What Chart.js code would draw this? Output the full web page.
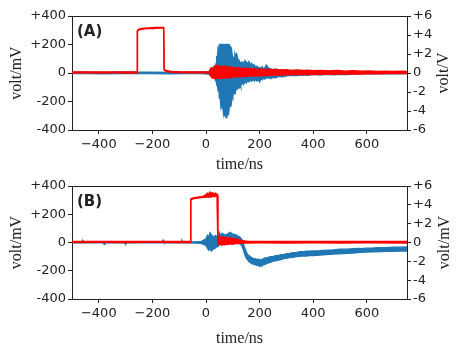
<!DOCTYPE html>
<html>
<head>
<meta charset="utf-8">
<script src="https://cdn.jsdelivr.net/npm/chart.js"></script>
<style>
  html, body { margin: 0; padding: 0; background: #fff; }
  #wrap { position: relative; width: 463px; height: 348px; }
  canvas { position: absolute; left: 0; }
</style>
</head>
<body>
<div id="wrap">
  <canvas id="chartA" width="463" height="174" style="top:0"></canvas>
  <canvas id="chartB" width="463" height="174" style="top:174px"></canvas>
</div>
<script>
// axis ticks
const xTicks = [-400, -200, 0, 200, 400, 600];
const xTickLabels = ['\u2212400', '\u2212200', '0', '200', '400', '600'];
const mvTicks = [-400, -200, 0, 200, 400];
const mvTickLabels = ['-400', '-200', '0', '+200', '+400'];
const vTicks = [-6, -4, -2, 0, 2, 4, 6];
const vTickLabels = ['-6', '-4', '-2', '0', '+2', '+4', '+6'];

// (A) red trace, volt/V — upper / lower edge of the noisy trace
const timeRedA = [-500, -450, -400, -350, -300, -257, -256, -250, -240, -230, -215, -200, -185, -170, -158, -156, -152, -145, -135, -120,
  -100, -60, -20, 12, 15, 20, 25, 30, 35, 40, 45, 50, 55, 60, 65, 70, 75, 80, 85, 90,
  95, 100, 110, 120, 130, 140, 150, 160, 170, 180, 190, 200, 215, 230, 245, 260, 280, 300, 320, 340,
  360, 380, 400, 430, 460, 490, 520, 550, 580, 610, 640, 670, 700, 730, 750];
const redAHigh = [0.10, 0.12, 0.10, 0.11, 0.10, 0.10, 4.50, 4.62, 4.68, 4.72, 4.75, 4.77, 4.79, 4.80, 4.80, 0.40, 0.30, 0.24, 0.18, 0.15,
  0.13, 0.12, 0.12, 0.12, 0.35, 0.55, 0.45, 0.70, 0.60, 0.80, 0.65, 0.78, 0.60, 0.72, 0.55, 0.75, 0.58, 0.70, 0.52, 0.66,
  0.50, 0.62, 0.48, 0.58, 0.45, 0.55, 0.42, 0.50, 0.40, 0.48, 0.38, 0.45, 0.36, 0.42, 0.33, 0.38, 0.30, 0.34, 0.28, 0.32,
  0.26, 0.30, 0.24, 0.28, 0.22, 0.26, 0.20, 0.24, 0.18, 0.22, 0.17, 0.20, 0.16, 0.19, 0.16];
const redALow = [0.00, 0.01, 0.00, 0.01, 0.00, 0.00, 4.42, 4.55, 4.60, 4.64, 4.67, 4.69, 4.71, 4.72, 4.72, 0.30, 0.22, 0.16, 0.10, 0.06,
  0.04, 0.02, 0.02, 0.00, -0.25, -0.40, -0.55, -0.45, -0.65, -0.50, -0.60, -0.45, -0.58, -0.50, -0.60, -0.42, -0.55, -0.48, -0.52, -0.40,
  -0.50, -0.38, -0.45, -0.35, -0.42, -0.32, -0.38, -0.30, -0.35, -0.28, -0.32, -0.26, -0.30, -0.22, -0.26, -0.20, -0.22, -0.18, -0.20, -0.15,
  -0.18, -0.14, -0.16, -0.12, -0.14, -0.10, -0.12, -0.08, -0.10, -0.06, -0.08, -0.05, -0.07, -0.05, -0.06];

// (A) blue trace, volt/mV
const timeBlueA = [-500, -440, -380, -320, -260, -200, -140, -80, -20, 25, 30, 33, 35, 38, 40, 42, 45, 48, 50, 52,
  55, 58, 60, 62, 65, 68, 70, 72, 75, 78, 80, 82, 85, 88, 90, 92, 95, 98, 100, 103,
  105, 108, 110, 113, 115, 118, 120, 123, 125, 128, 130, 135, 140, 145, 150, 155, 160, 165, 170, 175,
  180, 185, 190, 195, 200, 205, 210, 215, 220, 225, 230, 235, 240, 250, 260, 270, 285, 300, 320, 340,
  360, 380, 400, 425, 450, 475, 500, 525, 550, 575, 600, 650, 700, 750];
const blueAHigh = [5, 6, 4, 7, 5, 6, 4, 6, 5, 10, 25, 15, 55, 40, 120, 95, 170, 150, 200, 200,
  200, 195, 200, 200, 200, 200, 200, 198, 200, 200, 200, 200, 200, 195, 185, 150, 165, 120, 115, 95,
  105, 125, 110, 135, 128, 100, 95, 70, 80, 65, 72, 78, 60, 88, 75, 65, 80, 55, 68, 50,
  58, 40, 48, 35, 40, 30, 44, 28, 36, 55, 42, 30, 30, 24, 28, 20, 22, 14, 18, 12,
  16, 10, 14, 12, 15, 9, 12, 8, 14, 6, 5, 5, 4, 5];
const blueALow = [-3, -4, -5, -3, -4, -3, -5, -4, -3, -10, -20, -12, -45, -30, -90, -60, -125, -100, -175, -140,
  -225, -185, -250, -210, -280, -235, -305, -260, -312, -255, -290, -230, -270, -215, -235, -185, -205, -150, -165, -125,
  -145, -110, -130, -95, -120, -85, -105, -80, -95, -70, -88, -65, -80, -58, -70, -55, -62, -48, -58, -45,
  -55, -42, -55, -45, -62, -40, -48, -35, -42, -30, -36, -28, -40, -30, -34, -24, -26, -20, -16, -18,
  -12, -16, -10, -14, -9, -12, -10, -11, -8, -6, -5, -5, -5, -4];

// (B) red trace, volt/mV (right axis)
const timeRedB = [-500, -400, -300, -200, -100, -58, -57, -50, -40, -30, -20, -10, -5, 0, 5, 10, 15, 20, 25, 30,
  35, 40, 42, 44, 50, 55, 60, 65, 70, 75, 80, 90, 100, 110, 120, 130, 145, 160, 200, 300,
  400, 500, 600, 750];
const redBHigh = [0.10, 0.11, 0.10, 0.11, 0.10, 0.10, 4.62, 4.72, 4.78, 4.82, 4.86, 4.92, 5.00, 5.10, 5.25, 5.15, 5.35, 5.20, 5.30, 5.12,
  5.25, 5.15, 5.10, 0.70, 0.55, 0.65, 0.45, 0.60, 0.48, 0.58, 0.40, 0.50, 0.38, 0.42, 0.30, 0.25, 0.16, 0.12, 0.12, 0.11,
  0.12, 0.11, 0.12, 0.11];
const redBLow = [0.00, 0.01, 0.00, 0.01, 0.00, 0.00, 4.52, 4.62, 4.68, 4.72, 4.76, 4.80, 4.80, 4.82, 4.85, 4.78, 4.90, 4.82, 4.92, 4.85,
  4.90, 4.92, 4.95, -0.15, -0.25, -0.20, -0.28, -0.18, -0.25, -0.15, -0.22, -0.15, -0.18, -0.12, -0.10, -0.08, -0.06, -0.05, -0.04, -0.05,
  -0.04, -0.05, -0.04, -0.05];

// (B) blue trace, volt/mV
const timeBlueB = [-500, -463, -460, -457, -383, -380, -377, -303, -300, -297, -180, -163, -160, -157, -93, -90, -87, -60, -20, 0,
  5, 10, 15, 20, 25, 30, 35, 40, 45, 50, 55, 60, 70, 80, 90, 100, 110, 120, 125, 130,
  135, 140, 145, 150, 155, 160, 165, 170, 175, 180, 185, 190, 195, 200, 205, 210, 215, 220, 230, 240,
  250, 260, 270, 280, 290, 300, 312, 325, 337, 350, 362, 375, 387, 400, 425, 450, 475, 500, 525, 550,
  575, 600, 625, 650, 675, 700, 725, 750];
const blueBHigh = [5, 4, 15, 4, 4, 4, 4, 5, 4, 5, 5, 4, 16, 4, 4, 14, 4, 4, 5, 25,
  50, 38, 68, 55, 45, 36, 50, 42, 44, 70, 48, 65, 52, 60, 72, 58, 55, 44, 40, 30,
  18, -15, -40, -65, -85, -92, -100, -108, -112, -118, -115, -122, -118, -125, -122, -120, -115, -110, -108, -100,
  -100, -94, -92, -86, -86, -80, -78, -72, -72, -66, -66, -62, -62, -60, -58, -54, -52, -48, -47, -44,
  -43, -40, -39, -36, -36, -34, -33, -32];
const blueBLow = [-3, -3, -2, -3, -3, -12, -3, -3, -14, -3, -3, -3, -2, -3, -3, -3, -3, -3, -5, -20,
  -40, -55, -42, -60, -48, -45, -38, -30, -28, -10, -5, 0, -4, 2, 4, 0, 2, -4, -8, -14,
  -28, -55, -85, -110, -120, -135, -138, -150, -148, -158, -155, -162, -160, -170, -162, -165, -152, -155, -145, -140,
  -132, -130, -124, -120, -114, -112, -106, -104, -100, -98, -96, -96, -92, -92, -88, -86, -82, -80, -76, -74,
  -70, -68, -66, -64, -62, -62, -60, -60];

const BLUE = '#1f77b4';
const RED = '#ff0000';

function band(times, high, low, color, axis) {
  const common = { borderColor: color, backgroundColor: color, borderWidth: 1.4, pointRadius: 0, tension: 0, yAxisID: axis };
  return [
    Object.assign({ data: times.map((t, i) => ({ x: t, y: high[i] })), fill: false }, common),
    Object.assign({ data: times.map((t, i) => ({ x: t, y: low[i] })), fill: '-1' }, common)
  ];
}

// frame top edge, panel letter and right-hand axis title (reads bottom-to-top like matplotlib)
const framePlugin = {
  id: 'frame',
  afterDraw(chart, args, opts) {
    const { ctx, chartArea } = chart;
    ctx.save();
    ctx.strokeStyle = '#222';
    ctx.lineWidth = 1;
    ctx.beginPath();
    ctx.moveTo(chartArea.left, chartArea.top + 0.5);
    ctx.lineTo(chartArea.right, chartArea.top + 0.5);
    ctx.stroke();
    ctx.fillStyle = '#222';
    ctx.font = 'bold 15px "DejaVu Sans"';
    ctx.textBaseline = 'middle';
    ctx.textAlign = 'left';
    ctx.fillText(opts.letter, chartArea.left + 5, chartArea.top + 16);

    ctx.font = '16px "Liberation Serif"';
    ctx.textAlign = 'center';
    ctx.translate(opts.rightX, (chartArea.top + chartArea.bottom) / 2);
    ctx.rotate(-Math.PI / 2);
    ctx.fillText(opts.rightTitle, 0, 0);
    ctx.restore();
  }
};

function makeChart(id, letter, redTimes, redHigh, redLow, blueTimes, blueHigh, blueLow, rightTitle, rightX, padTop, xHeight, xTitlePad) {
  const tickFont = { family: '"DejaVu Sans"', size: 13 };
  const titleFont = { family: '"Liberation Serif"', size: 16 };
  return new Chart(document.getElementById(id), {
    type: 'line',
    data: {
      datasets: [
        ...band(redTimes, redHigh, redLow, RED, 'y2'),
        ...band(blueTimes, blueHigh, blueLow, BLUE, 'y')
      ]
    },
    options: {
      responsive: false,
      animation: false,
      layout: { padding: { top: padTop, left: 0, right: 0, bottom: 0 } },
      plugins: { legend: { display: false }, tooltip: { enabled: false }, frame: { letter, rightTitle, rightX } },
      scales: {
        x: {
          type: 'linear', min: -500, max: 750,
          afterBuildTicks: s => { s.ticks = xTicks.map(v => ({ value: v })); },
          afterFit: s => { s.height = xHeight; },
          ticks: { autoSkip: false, maxRotation: 0, color: '#222', font: tickFont, padding: 3,
            callback: (v, i) => xTickLabels[i] },
          grid: { drawOnChartArea: false, tickLength: 4, color: '#222' },
          border: { color: '#222', width: 1 },
          title: { display: true, text: 'time/ns', color: '#222', font: titleFont, padding: { top: xTitlePad, bottom: 0 } }
        },
        y: {
          position: 'left', min: -400, max: 400,
          afterBuildTicks: s => { s.ticks = mvTicks.map(v => ({ value: v })); },
          afterFit: s => { s.width = 72; },
          ticks: { autoSkip: false, color: '#222', font: tickFont, padding: 2,
            callback: (v, i) => mvTickLabels[i] },
          grid: { drawOnChartArea: false, tickLength: 4, color: '#222' },
          border: { color: '#222', width: 1 },
          title: { display: true, text: 'volt/mV', color: '#222', font: titleFont, padding: { top: 7, bottom: 0 } }
        },
        y2: {
          position: 'right', min: -6, max: 6,
          afterBuildTicks: s => { s.ticks = vTicks.map(v => ({ value: v })); },
          afterFit: s => { s.width = 56; },
          ticks: { autoSkip: false, color: '#222', font: tickFont, padding: 2,
            callback: (v, i) => vTickLabels[i] },
          grid: { drawOnChartArea: false, tickLength: 4, color: '#222' },
          border: { color: '#222', width: 1 },
          title: { display: false }
        }
      }
    },
    plugins: [framePlugin]
  });
}

makeChart('chartA', '(A)', timeRedA, redAHigh, redALow, timeBlueA, blueAHigh, blueALow, 'volt/V', 444, 16, 44, 2);
makeChart('chartB', '(B)', timeRedB, redBHigh, redBLow, timeBlueB, blueBHigh, blueBLow, 'volt/mV', 445, 12, 49, 9);
</script>
</body>
</html>
